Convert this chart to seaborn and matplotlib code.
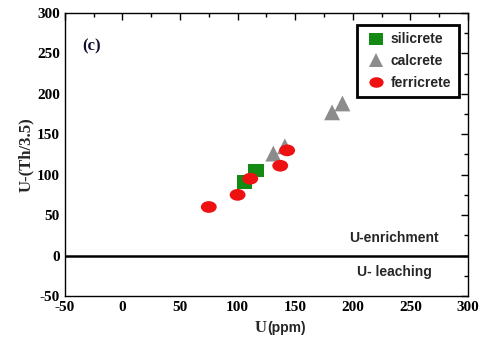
import matplotlib
matplotlib.use('Agg')
import matplotlib.pyplot as plt
import seaborn as sns
import pandas as pd
from matplotlib.ticker import MultipleLocator
from matplotlib.path import Path
from matplotlib.transforms import Affine2D

# Data
sil_u = [106, 116]
sil_y = [91, 105]
cal_u = [131, 141, 182, 191]
cal_y = [126, 135, 177, 188]
fer_u = [75, 100, 111, 137, 143]
fer_y = [60, 75, 95, 111, 130]

df = pd.DataFrame({
    'U': sil_u + cal_u + fer_u,
    'Uth': sil_y + cal_y + fer_y,
    'type': ['silicrete'] * len(sil_u) + ['calcrete'] * len(cal_u) + ['ferricrete'] * len(fer_u),
})

# the original picture is a bit stretched, so circles/squares come out wide
ellipse = Path.unit_circle().transformed(Affine2D().scale(1.35, 1.0))
rect = Path([(-1.2, -1), (1.2, -1), (1.2, 1), (-1.2, 1), (-1.2, -1)],
            [Path.MOVETO, Path.LINETO, Path.LINETO, Path.LINETO, Path.CLOSEPOLY])

sns.set_style('white')
plt.rcParams['axes.unicode_minus'] = False
fig = plt.figure(figsize=(4.8, 3.39), dpi=100)
ax = fig.add_axes([0.135, 0.127, 0.84, 0.835])

ax.axhline(0, color='black', lw=1.8, zorder=1)

sns.scatterplot(data=df, x='U', y='Uth', hue='type', style='type',
                hue_order=['silicrete', 'calcrete', 'ferricrete'],
                palette={'silicrete': '#138a13', 'calcrete': '#8c8c8c', 'ferricrete': '#ee1111'},
                markers={'silicrete': rect, 'calcrete': '^', 'ferricrete': ellipse},
                s=130, linewidth=0, ax=ax, zorder=3)

ax.set_xlim(-50, 300)
ax.set_ylim(-50, 300)
ax.xaxis.set_major_locator(MultipleLocator(50))
ax.yaxis.set_major_locator(MultipleLocator(50))
ax.xaxis.set_minor_locator(MultipleLocator(25))
ax.yaxis.set_minor_locator(MultipleLocator(25))
ax.tick_params(which='both', direction='in', top=True, right=True, colors='black')
ax.tick_params(which='major', length=5, width=1)
ax.tick_params(which='minor', length=3, width=1)
for lab in ax.get_xticklabels() + ax.get_yticklabels():
    lab.set_fontfamily('Liberation Serif')
    lab.set_fontweight('bold')
    lab.set_fontsize(11)
for sp in ax.spines.values():
    sp.set_color('black')
    sp.set_linewidth(1)

ax.set_xlabel('')
ax.set_ylabel('U-(Th/3.5)', fontfamily='Liberation Serif', fontweight='bold', fontsize=12, labelpad=2)
ax.text(0.5, -0.085, 'U', transform=ax.transAxes, ha='right', va='top',
        fontfamily='Liberation Serif', fontweight='bold', fontsize=12)
ax.text(0.502, -0.09, '(ppm)', transform=ax.transAxes, ha='left', va='top',
        fontfamily='Liberation Sans', fontweight='bold', fontsize=10)

ax.text(-27, 258, '(c)', fontfamily='Liberation Serif', fontweight='bold', fontsize=12,
        color='#101030', ha='center', va='center')
ax.text(236, 22, 'U-enrichment', fontfamily='Liberation Sans', fontweight='bold', fontsize=10,
        ha='center', va='center')
ax.text(236, -20, 'U- leaching', fontfamily='Liberation Sans', fontweight='bold', fontsize=10,
        ha='center', va='center')

leg = ax.legend(loc='upper right', bbox_to_anchor=(0.978, 0.958), borderaxespad=0,
                frameon=True, fancybox=False,
                prop={'family': 'Liberation Sans', 'weight': 'bold', 'size': 10},
                handletextpad=0.3, handlelength=1.6, borderpad=0.55, labelspacing=0.55,
                markerscale=0.9)
leg.get_frame().set_edgecolor('black')
leg.get_frame().set_linewidth(2)
leg.get_frame().set_alpha(1)

fig.savefig('out.png', dpi=100)
